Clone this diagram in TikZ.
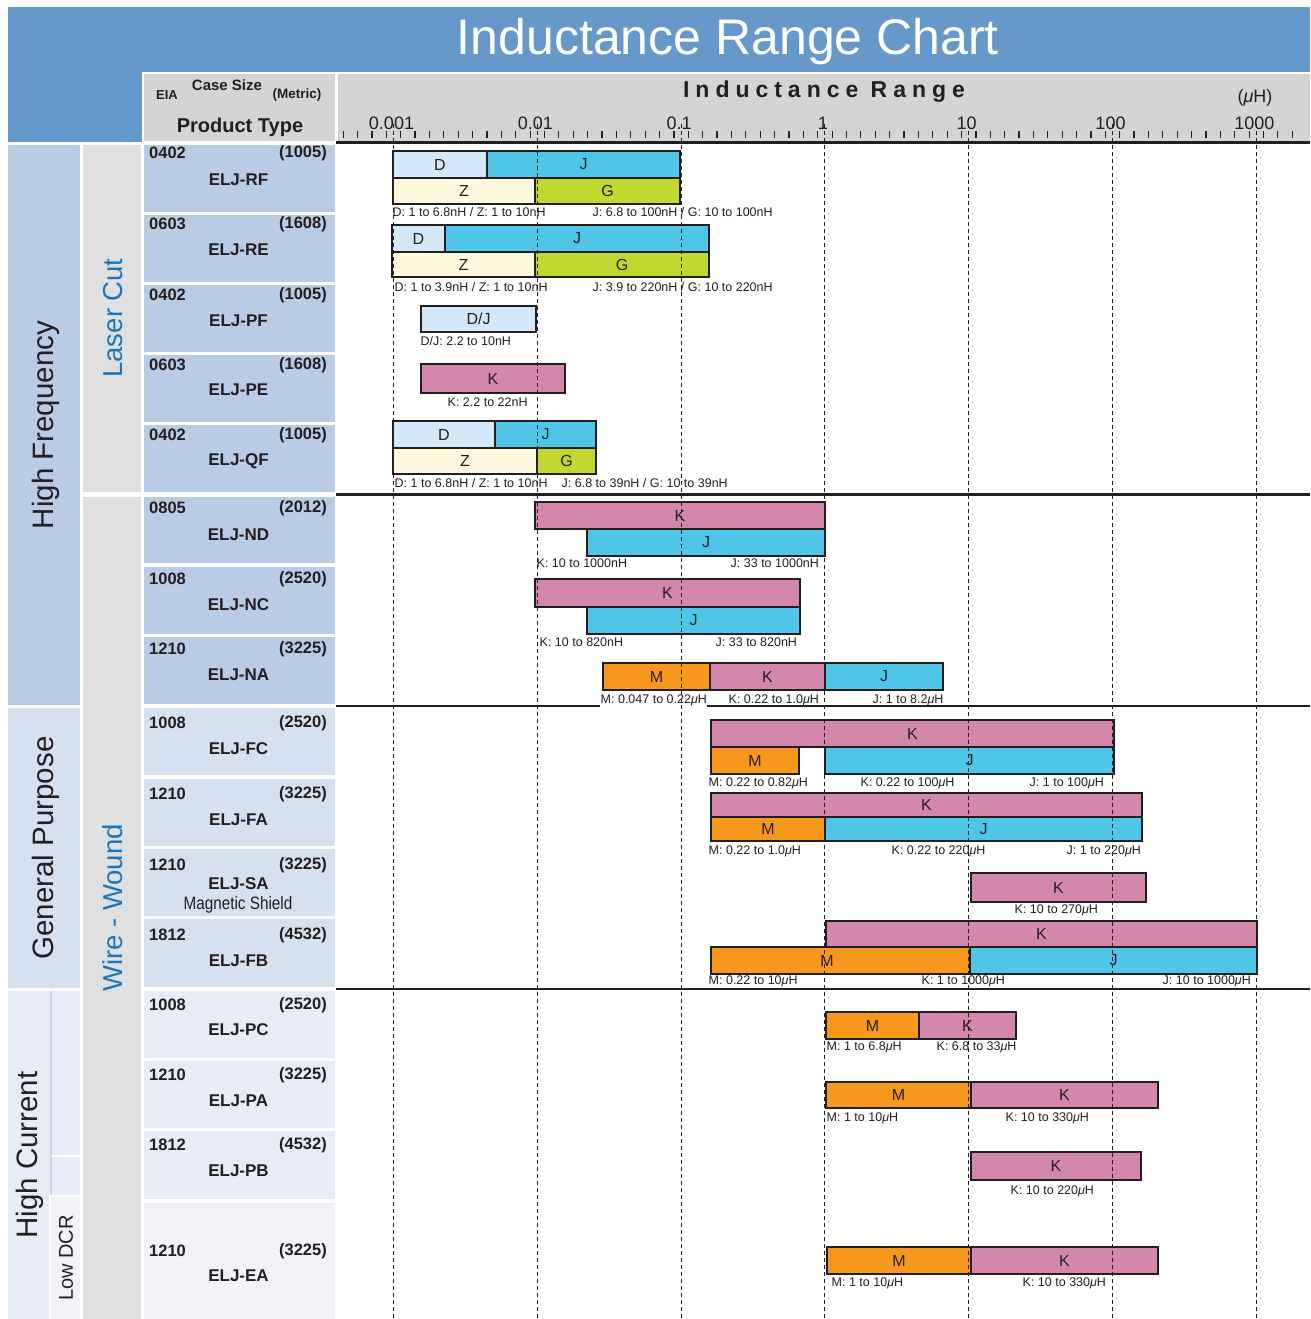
\documentclass[tikz,border=0pt]{standalone}
\usepackage{fontspec}
\setmainfont{Liberation Sans}
\newfontfamily\irfont{Liberation Sans}[LetterSpace=26]
\newcommand{\fsz}[1]{\fontsize{#1}{#1}\selectfont}
\newcommand{\myuH}{\textit{μ}H}
\definecolor{hdrblue}{HTML}{6699C9}
\definecolor{hdrgray}{HTML}{D3D4D4}
\definecolor{hfblue}{HTML}{B8CCE4}
\definecolor{gpblue}{HTML}{D6E1F0}
\definecolor{hcblue}{HTML}{E7ECF6}
\definecolor{eablue}{HTML}{F1F3F9}
\definecolor{colgray}{HTML}{E0E0E0}
\definecolor{catblue}{HTML}{1A75BC}
\definecolor{ink}{HTML}{231F20}
\definecolor{hcline}{HTML}{C6D3E8}
\definecolor{cD}{HTML}{D2E9F9}
\definecolor{cJ}{HTML}{4FC6E8}
\definecolor{cZ}{HTML}{FEF8DD}
\definecolor{cG}{HTML}{C1D82F}
\definecolor{cK}{HTML}{D387AD}
\definecolor{cM}{HTML}{F7981D}
\tikzset{
  barbox/.style={draw=ink, line width=1.3pt, inner sep=0pt, outer sep=0pt, font=\fsz{16}, text=ink},
  barletter/.style={inner sep=0pt, font=\fsz{16}, text=ink},
  rlabel/.style={font=\fsz{12.5}, inner sep=0.5pt, text=ink},
  rowbox/.style={draw=none, minimum width=191pt, inner sep=0pt, outer sep=0pt},
  codetxt/.style={font=\bfseries\fsz{16.5}, text=ink, inner sep=0pt},
  nametxt/.style={font=\bfseries\fsz{17}, text=ink, inner sep=0pt},
  cattxt/.style={rotate=90, font=\fsz{29.5}, text=ink, inner sep=0pt},
  subtxt/.style={rotate=90, font=\fsz{27.5}, text=catblue, inner sep=0pt},
  axnum/.style={font=\fsz{18}, text=ink, inner sep=0pt},
  sepline/.style={line width=2.5pt, ink},
  dashline/.style={line width=1.1pt, ink, dash pattern=on 4pt off 3pt},
  tickline/.style={line width=1.2pt, ink},
}
\newcommand{\prow}[9]{%
  \node[rowbox, fill=#4, minimum height={#3pt-#2pt}] (r#1) at (239.5,{(#2+#3)/2}) {};
  \node[codetxt, anchor=west] (c#1) at (149,#8) {#5};
  \node[codetxt, anchor=east] (m#1) at (327,#8) {#6};
  \node[nametxt] (n#1) at (238.5,#9) {#7};
}
\newcommand{\rbar}[7]{%
  \node[barbox, fill=#6, minimum width={#3pt-#2pt}, minimum height={#5pt-#4pt}, anchor=north west] (#1) at (#2,#4) {#7};
}
\newcommand{\rlab}[4]{\node[rlabel, anchor=west] (#1) at (#2,#3) {#4};}
\begin{document}
\begin{tikzpicture}[x=1pt,y=-1pt]
\useasboundingbox (0,0) rectangle (1310,1319);
% header
\fill[hdrblue] (8,7) rectangle (1310,72);
\fill[hdrblue] (8,72) rectangle (142,142);
\fill[hdrgray] (144,74) rectangle (335,141);
\fill[hdrgray] (338,74) rectangle (1310,141);
\node[font=\fsz{50}, text=white, inner sep=0pt] (title) at (728,42) {Inductance Range Chart};
\node[font=\bfseries\fsz{13}, text=ink, inner sep=0pt] (eia) at (167,95) {EIA};
\node[font=\bfseries\fsz{15}, text=ink, inner sep=0pt] (cs) at (227,85) {Case Size};
\node[font=\bfseries\fsz{13.5}, text=ink, inner sep=0pt] (met) at (297,95) {(Metric)};
\node[font=\bfseries\fsz{20}, text=ink, inner sep=0pt] (ptype) at (240,127) {Product Type};
\node[font=\irfont\bfseries\fsz{23}, text=ink, inner sep=0pt] (irange) at (824,92) {Inductance Range};
\node[font=\fsz{18}, text=ink, inner sep=0pt] (unit) at (1255,98) {(\myuH)};
% left columns
\fill[hfblue] (8,145) rectangle (80,705);
\fill[gpblue] (8,708) rectangle (80,988);
\fill[hcblue] (8,991) rectangle (80,1319);
\draw[hcline, line width=1.5pt] (51,991) -- (51,1195);
\draw[white, line width=2pt] (51,1156) -- (80,1156);
\fill[white] (49,1195) rectangle (81,1319);
\fill[eablue] (51,1197) rectangle (80,1319);
\fill[colgray] (83,145) rectangle (141,492);
\fill[colgray] (83,497) rectangle (141,1319);
\node[cattxt] (hf) at (46,425) {High Frequency};
\node[cattxt] (gp) at (46,848) {General Purpose};
\node[cattxt] (hc) at (30,1155) {High Current};
\node[rotate=90, font=\fsz{20}, text=ink, inner sep=0pt] (ldcr) at (66,1258) {Low DCR};
\node[subtxt] (lc) at (113,318) {Laser Cut};
\node[subtxt] (ww) at (113,908) {Wire - Wound};
% product rows
\prow{1}{145}{212}{hfblue}{0402}{(1005)}{ELJ-RF}{153}{180}
\prow{2}{215}{282}{hfblue}{0603}{(1608)}{ELJ-RE}{224}{250}
\prow{3}{285}{352}{hfblue}{0402}{(1005)}{ELJ-PF}{295}{321}
\prow{4}{355}{422}{hfblue}{0603}{(1608)}{ELJ-PE}{365}{390}
\prow{5}{425}{492}{hfblue}{0402}{(1005)}{ELJ-QF}{435}{461}
\prow{6}{497}{563}{hfblue}{0805}{(2012)}{ELJ-ND}{508}{535}
\prow{7}{567}{634}{hfblue}{1008}{(2520)}{ELJ-NC}{579}{605}
\prow{8}{637}{704}{hfblue}{1210}{(3225)}{ELJ-NA}{649}{675}
\prow{9}{708}{775}{gpblue}{1008}{(2520)}{ELJ-FC}{723}{749}
\prow{10}{779}{846}{gpblue}{1210}{(3225)}{ELJ-FA}{794}{820}
\prow{11}{849}{916}{gpblue}{1210}{(3225)}{ELJ-SA}{865}{884}
\prow{12}{919}{987}{gpblue}{1812}{(4532)}{ELJ-FB}{935}{961}
\prow{13}{991}{1058}{hcblue}{1008}{(2520)}{ELJ-PC}{1005}{1030}
\prow{14}{1061}{1128}{hcblue}{1210}{(3225)}{ELJ-PA}{1075}{1101}
\prow{15}{1131}{1199}{hcblue}{1812}{(4532)}{ELJ-PB}{1145}{1171}
\prow{16}{1203}{1319}{eablue}{1210}{(3225)}{ELJ-EA}{1251}{1276}
\node[font=\fsz{18}, text=ink, inner sep=0pt, xscale=0.85] (magsh) at (238,905) {Magnetic Shield};
% separators
\draw[sepline] (336,142.5) -- (1310,142.5);
\draw[sepline] (336,494.5) -- (1310,494.5);
\draw[sepline] (336,706) -- (1310,706);
\draw[sepline] (336,989) -- (1310,989);
% ticks
\foreach \k in {-1,...,6}{
  \foreach \j in {0,...,9}{
    \pgfmathsetmacro{\tx}{393.5+143.8*\k+14.38*(\j+0.5)}
    \ifdim\tx pt<1306pt \ifdim\tx pt>342pt
      \draw[tickline] (\tx,131) -- (\tx,138);
    \fi\fi
  }
}
\foreach \k/\t in {0/0.001,1/0.01,2/0.1,3/1,4/10,5/100,6/1000}{
  \node[axnum] (ax\k) at ({391.5+143.8*\k},123) {\t};
}
% bars: ELJ-RF
\rbar{rfD}{393}{487}{151}{178}{cD}{D}
\rbar{rfJ}{487}{680}{151}{178}{cJ}{J}
\rbar{rfZ}{393}{535}{178}{204}{cZ}{Z}
\rbar{rfG}{535}{680}{178}{204}{cG}{G}
\rlab{rfLa}{392}{212}{D: 1 to 6.8nH / Z: 1 to 10nH}
\rlab{rfLb}{592}{212}{J: 6.8 to 100nH / G: 10 to 100nH}
% ELJ-RE
\rbar{reD}{392}{445}{225}{252}{cD}{D}
\rbar{reJ}{445}{709}{225}{252}{cJ}{J}
\rbar{reZ}{392}{535}{252}{277}{cZ}{Z}
\rbar{reG}{535}{709}{252}{277}{cG}{G}
\rlab{reLa}{394}{287}{D: 1 to 3.9nH / Z: 1 to 10nH}
\rlab{reLb}{592}{287}{J: 3.9 to 220nH / G: 10 to 220nH}
% ELJ-PF
\rbar{pfDJ}{421}{536}{306}{332}{cD}{D/J}
\rlab{pfL}{420}{341}{D/J: 2.2 to 10nH}
% ELJ-PE
\rbar{peK}{421}{565}{364}{393}{cK}{K}
\rlab{peL}{447}{402}{K: 2.2 to 22nH}
% ELJ-QF
\rbar{qfD}{393}{495}{421}{448}{cD}{D}
\rbar{qfJ}{495}{596}{421}{448}{cJ}{J}
\rbar{qfZ}{393}{537}{448}{474}{cZ}{Z}
\rbar{qfG}{537}{596}{448}{474}{cG}{G}
\rlab{qfLa}{394}{483}{D: 1 to 6.8nH / Z: 1 to 10nH}
\rlab{qfLb}{561}{483}{J: 6.8 to 39nH / G: 10 to 39nH}
% ELJ-ND
\rbar{ndK}{535}{825}{502}{529}{cK}{K}
\rbar{ndJ}{587}{825}{529}{556}{cJ}{J}
\rlab{ndLa}{536}{563}{K: 10 to 1000nH}
\rlab{ndLb}{730}{563}{J: 33 to 1000nH}
% ELJ-NC
\rbar{ncK}{535}{800}{579}{607}{cK}{K}
\rbar{ncJ}{587}{800}{607}{634}{cJ}{J}
\rlab{ncLa}{539}{642}{K: 10 to 820nH}
\rlab{ncLb}{715}{642}{J: 33 to 820nH}
% ELJ-NA
\rbar{naM}{603}{710}{663}{690}{cM}{M}
\rbar{naK}{710}{825}{663}{690}{cK}{K}
\rbar{naJ}{825}{943}{663}{690}{cJ}{J}
\node[rlabel, anchor=west, fill=white, inner ysep=2.5pt] (naLa) at (600,700) {M: 0.047 to 0.22\myuH};
\rlab{naLb}{728}{700}{K: 0.22 to 1.0\myuH}
\rlab{naLc}{872}{700}{J: 1 to 8.2\myuH}
% ELJ-FC
\rbar{fcK}{711}{1114}{720}{747}{cK}{K}
\rbar{fcM}{711}{799}{747}{774}{cM}{M}
\rbar{fcJ}{825}{1114}{747}{774}{cJ}{J}
\rlab{fcLa}{708}{783}{M: 0.22 to 0.82\myuH}
\rlab{fcLb}{860}{783}{K: 0.22 to 100\myuH}
\rlab{fcLc}{1029}{783}{J: 1 to 100\myuH}
% ELJ-FA
\rbar{faK}{711}{1142}{793}{817}{cK}{K}
\rbar{faM}{711}{825}{817}{841}{cM}{M}
\rbar{faJ}{825}{1142}{817}{841}{cJ}{J}
\rlab{faLa}{708}{851}{M: 0.22 to 1.0\myuH}
\rlab{faLb}{891}{851}{K: 0.22 to 220\myuH}
\rlab{faLc}{1066}{851}{J: 1 to 220\myuH}
% ELJ-SA
\rbar{saK}{971}{1146}{873}{902}{cK}{K}
\rlab{saL}{1014}{910}{K: 10 to 270\myuH}
% ELJ-FB
\rbar{fbK}{826}{1257}{921}{947}{cK}{K}
\rbar{fbM}{711}{970}{947}{974}{cM}{}
\node[barletter] (fbMt) at (827,960.5) {M};
\rbar{fbJ}{970}{1257}{947}{974}{cJ}{J}
\rlab{fbLa}{708}{981}{M: 0.22 to 10\myuH}
\rlab{fbLb}{921}{981}{K: 1 to 1000\myuH}
\rlab{fbLc}{1162}{981}{J: 10 to 1000\myuH}
% ELJ-PC
\rbar{pcM}{826}{919}{1012}{1039}{cM}{M}
\rbar{pcK}{919}{1016}{1012}{1039}{cK}{K}
\rlab{pcLa}{826}{1047}{M: 1 to 6.8\myuH}
\rlab{pcLb}{936}{1047}{K: 6.8 to 33\myuH}
% ELJ-PA
\rbar{paM}{826}{971}{1082}{1108}{cM}{M}
\rbar{paK}{971}{1158}{1082}{1108}{cK}{K}
\rlab{paLa}{826}{1118}{M: 1 to 10\myuH}
\rlab{paLb}{1005}{1118}{K: 10 to 330\myuH}
% ELJ-PB
\rbar{pbK}{971}{1141}{1152}{1180}{cK}{K}
\rlab{pbL}{1010}{1191}{K: 10 to 220\myuH}
% ELJ-EA
\rbar{eaM}{827}{971}{1247}{1274}{cM}{M}
\rbar{eaK}{971}{1158}{1247}{1274}{cK}{K}
\rlab{eaLa}{831}{1283}{M: 1 to 10\myuH}
\rlab{eaLb}{1022}{1283}{K: 10 to 330\myuH}
% decade dashed lines on top
\foreach \k in {0,...,6}{
  \coordinate (dt\k) at ({393.5+143.8*\k},124);
  \coordinate (db\k) at ({393.5+143.8*\k},1319);
  \draw[dashline] (dt\k) -- (db\k);
}
\end{tikzpicture}
\end{document}
